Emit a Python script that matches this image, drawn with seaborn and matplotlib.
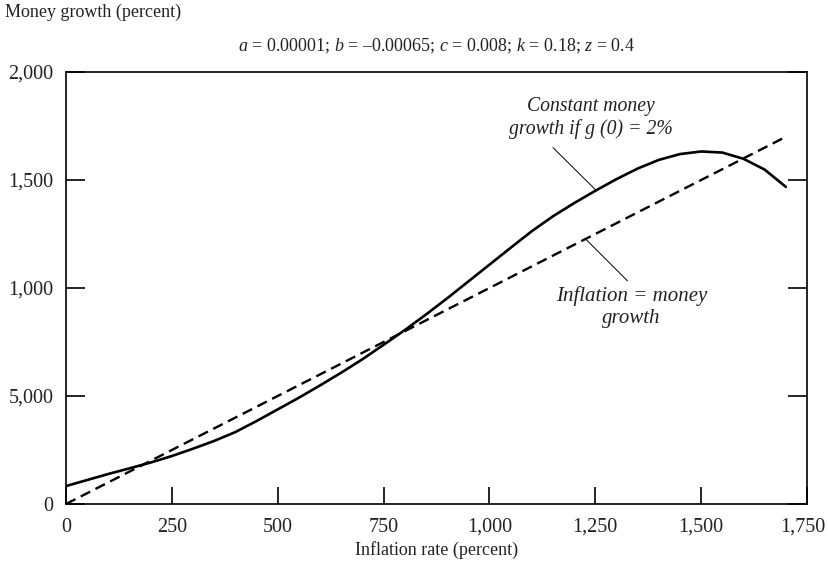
import matplotlib
matplotlib.use("Agg")
import matplotlib.pyplot as plt
import matplotlib.transforms as mtransforms
import seaborn as sns
import pandas as pd

# ---- data ----
inflation = [0, 50, 100, 150, 200, 250, 300, 350, 400, 450, 500, 550, 600, 650,
             700, 750, 800, 850, 900, 950, 1000, 1050, 1100, 1150, 1200, 1250,
             1300, 1350, 1400, 1450, 1500, 1550, 1600, 1650, 1700]
money_growth = [83, 111, 139, 165, 192, 222, 256, 292, 333, 384, 438, 492, 549, 608,
                670, 737, 805, 877, 952, 1030, 1108, 1186, 1263, 1332, 1393, 1450,
                1504, 1553, 1593, 1620, 1632, 1627, 1598, 1548, 1468]
equal_x = [0, 1700]
equal_y = [0, 1700]

x_ticks = [0, 250, 500, 750, 1000, 1250, 1500, 1750]
x_tick_labels = ["0", "250", "500", "750", "1,000", "1,250", "1,500", "1,750"]
y_ticks = [0, 500, 1000, 1500, 2000]
y_tick_labels = ["0", "5,000", "1,000", "1,500", "2,000"]

sns.set_theme(style="white")
plt.rcParams['font.family'] = ['Liberation Serif', 'DejaVu Serif']
plt.rcParams['mathtext.fontset'] = 'custom'
plt.rcParams['mathtext.rm'] = 'Liberation Serif'
plt.rcParams['mathtext.it'] = 'Liberation Serif:italic'

fig = plt.figure(figsize=(8.29, 5.70), dpi=100)
ax = fig.add_axes([0.0796, 0.1158, 0.8939, 0.7579])

df_curve = pd.DataFrame({"x": inflation, "y": money_growth})
df_eq = pd.DataFrame({"x": equal_x, "y": equal_y})

sns.lineplot(data=df_curve, x="x", y="y", ax=ax, color="black", linewidth=1.9,
             sort=False, estimator=None)
sns.lineplot(data=df_eq, x="x", y="y", ax=ax, color="black", linewidth=1.7,
             sort=False, estimator=None, dashes=False)
ax.lines[-1].set_linestyle((0, (4.5, 2.5)))

ax.set_xlim(0, 1750)
ax.set_ylim(0, 2000)
ax.set_xticks(x_ticks)
ax.set_xticklabels(x_tick_labels, fontsize=14.5)
ax.set_yticks(y_ticks)
ax.set_yticklabels(y_tick_labels, fontsize=14.5)
ax.tick_params(axis='x', direction='in', length=12, width=1.2, color='black',
               bottom=True, top=False, pad=10, labelcolor='#222222')
ax.tick_params(axis='y', direction='in', length=14, width=1.2, color='black',
               left=True, right=True, pad=9, labelcolor='#222222')
last = ax.get_xticklabels()[-1]
last.set_horizontalalignment('right')
last.set_transform(last.get_transform() +
                   mtransforms.ScaledTranslation(0.18, 0, fig.dpi_scale_trans))
for s in ax.spines.values():
    s.set_visible(True)
    s.set_color('black')
    s.set_linewidth(1.2)

ax.set_xlabel("Inflation rate (percent)", fontsize=13, color='#222222', labelpad=3)
ax.set_ylabel("")

fig.text(0.006, 0.978, "Money growth (percent)", fontsize=13, color='#222222',
         ha='left', va='center')
fig.text(0.526, 0.919,
         r"$a$ = 0.00001; $b$ = –0.00065; $c$ = 0.008; $k$ = 0.18; $z$ = 0.4",
         fontsize=13, color='#222222', ha='center', va='center')

ax.text(1239, 1788, "Constant money\ngrowth if g (0) = 2%", fontsize=14.2,
        style='italic', ha='center', va='center', color='#222222',
        linespacing=1.2)
ax.plot([1150, 1253], [1650, 1450], color='black', linewidth=0.7)

ax.text(1336, 912, "Inflation = money\ngrowth", fontsize=15.0, style='italic',
        ha='center', va='center', color='#222222', linespacing=1.25)
ax.plot([1228, 1326], [1225, 1033], color='black', linewidth=0.7)

fig.savefig("out.png", dpi=100)
